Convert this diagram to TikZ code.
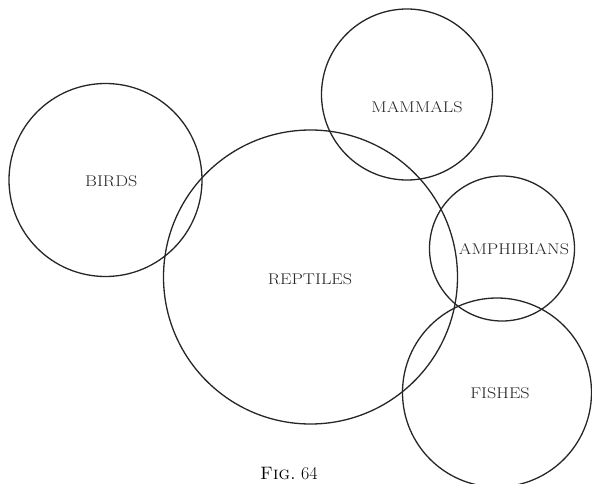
\documentclass[tikz,border=0pt]{standalone}
\begin{document}
\begin{tikzpicture}[x=1pt,y=-1pt,
  ring/.style={draw=black!85,line width=1.3pt},
  lbl/.style={inner sep=0pt,font=\fontsize{15.5}{18}\selectfont,text=black!85}]
\useasboundingbox (0,0) rectangle (592,484);
\fill[white] (0,0) rectangle (592,484);
\coordinate (cB) at (105.5,180);
\coordinate (cR) at (310.5,277);
\coordinate (cM) at (407,94.5);
\coordinate (cA) at (502,248.5);
\coordinate (cF) at (497,392.5);
\draw[ring] (cB) circle[radius=96.5];
\draw[ring] (cR) circle[radius=147];
\draw[ring] (cM) circle[radius=85.5];
\draw[ring] (cA) circle[radius=72.5];
\draw[ring] (cF) circle[radius=94.5];
\node[lbl] (birds) at (111.3,181.3) {\scalebox{1.17}[1]{BIRDS}};
\node[lbl] (reptiles) at (310,279.5) {\scalebox{1.17}[1]{REPTILES}};
\node[lbl] (mammals) at (417,107) {\scalebox{1.17}[1]{MAMMALS}};
\node[lbl] (amph) at (514,249) {\scalebox{1.17}[1]{AMPHIBIANS}};
\node[lbl] (fishes) at (500,393) {\scalebox{1.17}[1]{FISHES}};
\node[inner sep=0pt,anchor=base,font=\fontsize{18}{21}\selectfont] (cap) at (289,479) {\textsc{Fig.}~64};
\end{tikzpicture}
\end{document}
